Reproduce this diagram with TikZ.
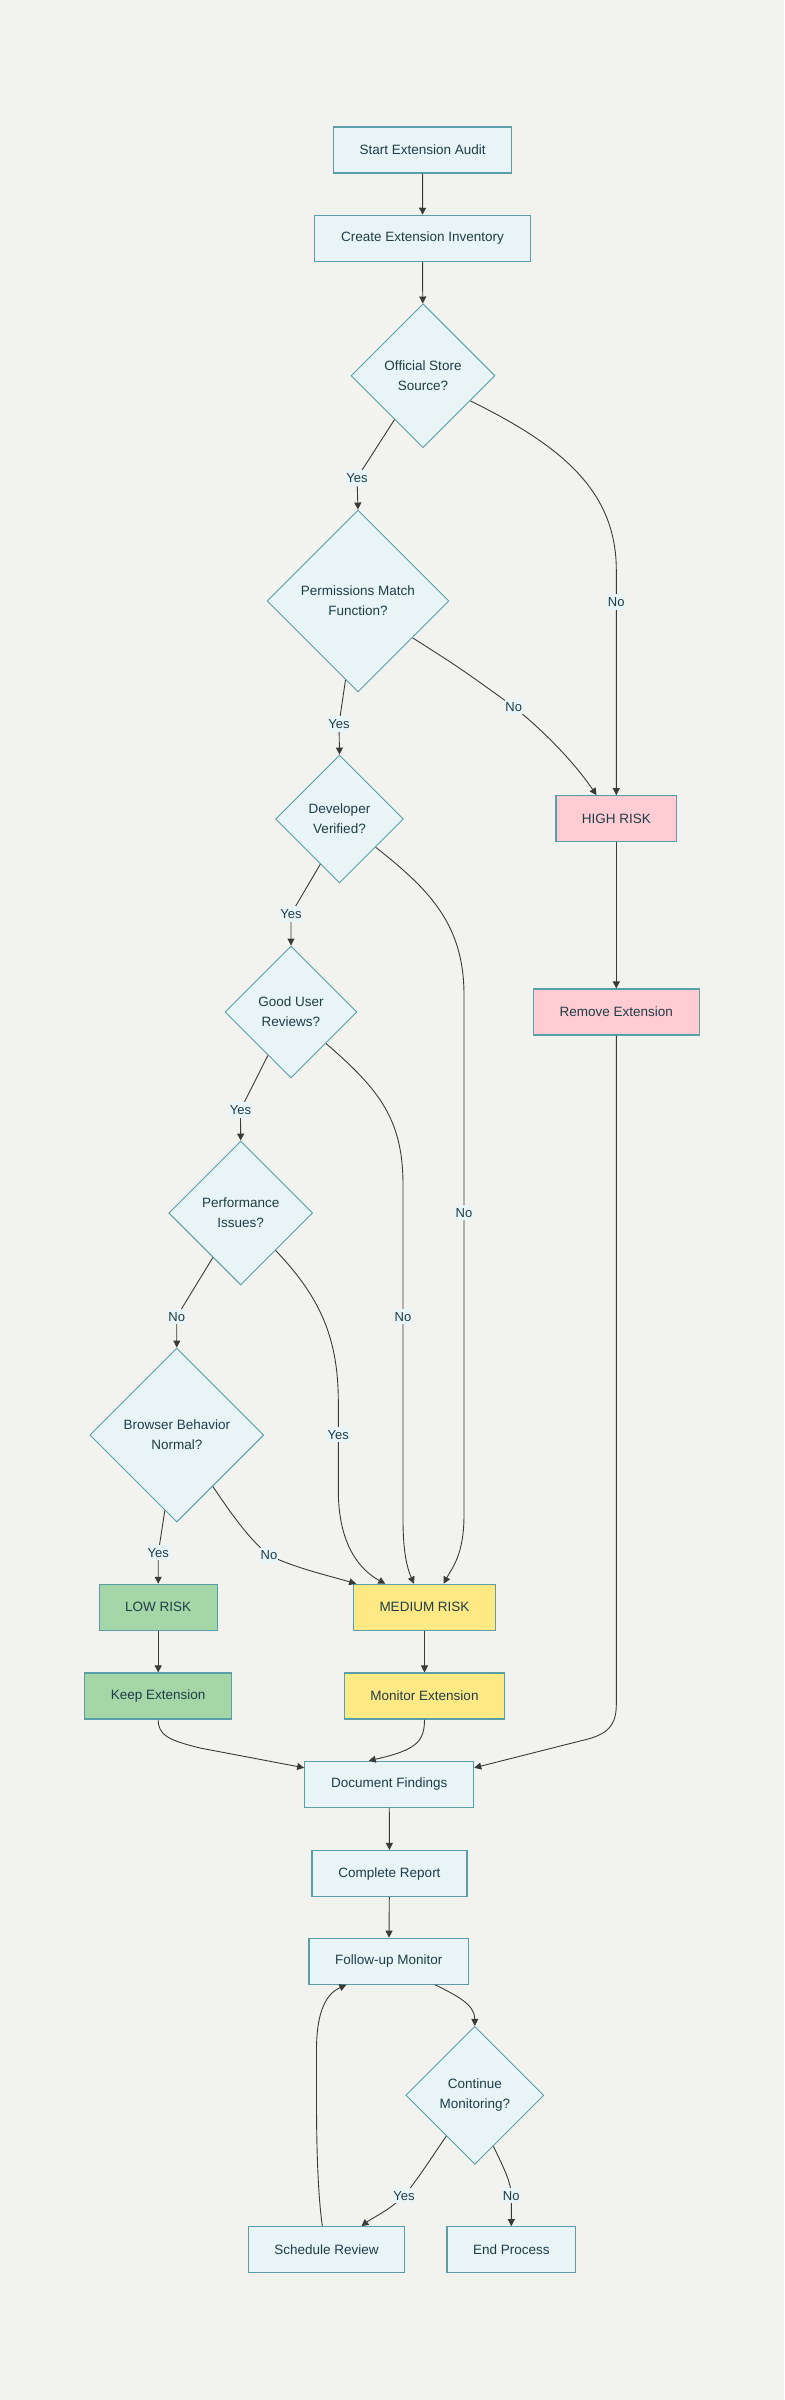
\documentclass[tikz,border=0pt]{standalone}
\usepackage{fontspec}
\setmainfont{Liberation Sans}
\usetikzlibrary{arrows.meta,shapes.geometric}
\definecolor{bg}{HTML}{F2F3EE}
\definecolor{boxfill}{HTML}{E8F4F5}
\definecolor{boxline}{HTML}{5A9FA8}
\definecolor{ink}{HTML}{1F3D47}
\definecolor{edge}{HTML}{3A3A3A}
\definecolor{high}{HTML}{FFCCD3}
\definecolor{low}{HTML}{A5D6A7}
\definecolor{medium}{HTML}{FFE985}
\tikzset{
  block/.style={draw=boxline, fill=boxfill, line width=1.1pt, minimum height=46pt,
                inner sep=0pt, text=ink, font=\fontsize{13.5}{20}\selectfont},
  choice/.style={diamond, aspect=1, draw=boxline, fill=boxfill, line width=0.9pt,
                 inner sep=1pt, align=center, text=ink, font=\fontsize{13.5}{20}\selectfont},
  arrow/.style={-{Triangle[length=7pt,width=7pt]}, line width=0.9pt, draw=edge},
  tag/.style={fill=boxfill, inner xsep=0.8pt, inner ysep=3pt, text=ink,
              font=\fontsize{13}{14}\selectfont}
}
\begin{document}
\begin{tikzpicture}[x=1pt,y=-1pt]
  \fill[bg] (0,0) rectangle (784,2400);
  \useasboundingbox (0,0) rectangle (784,2400);
  % main column
  \node[block, minimum width=178pt] (start) at (422.7,150) {Start Extension Audit};
  \node[block, minimum width=215.6pt] (inventory) at (422.5,238.3) {Create Extension Inventory};
  \node[choice, minimum size=144pt] (official) at (423,375.7) {Official Store\\Source?};
  \node[choice, minimum size=182pt] (perms) at (358,601) {Permissions Match\\Function?};
  \node[choice, minimum size=128pt] (devver) at (339.5,819) {Developer\\Verified?};
  \node[choice, minimum size=132pt] (reviews) at (291,1012) {Good User\\Reviews?};
  \node[choice, minimum size=144pt] (perf) at (240.7,1213) {Performance\\Issues?};
  \node[choice, minimum size=174pt] (browser) at (176.8,1435) {Browser Behavior\\Normal?};
  % risk levels
  \node[block, fill=high, minimum width=120.7pt] (highrisk) at (616.3,818.7) {HIGH RISK};
  \node[block, fill=high, minimum width=166pt] (remove) at (616.3,1012) {Remove Extension};
  \node[block, fill=low, minimum width=117.7pt] (lowrisk) at (158.2,1607.3) {LOW RISK};
  \node[block, fill=low, minimum width=147pt] (keep) at (158.2,1696) {Keep Extension};
  \node[block, fill=medium, minimum width=142.3pt] (medrisk) at (424.5,1607.3) {MEDIUM RISK};
  \node[block, fill=medium, minimum width=160.4pt] (monitor) at (424.5,1696) {Monitor Extension};
  % reporting
  \node[block, minimum width=169pt] (findings) at (389.2,1784.3) {Document Findings};
  \node[block, minimum width=155pt] (report) at (389.5,1873.5) {Complete Report};
  \node[block, minimum width=159.7pt] (followup) at (388.8,1961.2) {Follow-up Monitor};
  \node[choice, minimum size=138pt] (continue) at (474.8,2095.3) {Continue\\Monitoring?};
  \node[block, minimum width=156.4pt] (schedule) at (326.5,2249.7) {Schedule Review};
  \node[block, minimum width=128.7pt] (endproc) at (511.3,2249.7) {End Process};

  \draw[arrow] (start) -- (inventory);
  \draw[arrow] (inventory) -- (official);
  \draw[arrow] (official.-123) -- (357,478) node[tag] {Yes} -- (perms.north);
  \draw[arrow] (official.-28) .. controls (560,445) and (616.3,490) .. (616.3,570)
    -- (616.3,602) node[tag] {No} -- (highrisk.north);
  \draw[arrow] (perms.-99) -- (339,724) node[tag] {Yes} -- (devver.north);
  \draw[arrow] (perms.-34) .. controls (460,668) .. (513.7,706.7) node[tag] {No}
    .. controls (552,738) and (578,768) .. (highrisk.130);
  \draw[arrow] (devver.-113) -- (291,914) node[tag] {Yes} -- (reviews.north);
  \draw[arrow] (devver.-38) .. controls (430,890) and (464,925) .. (464,995)
    -- (464,1212.7) node[tag] {No} -- (464,1515)
    .. controls (464,1555) and (452,1568) .. (medrisk.51);
  \draw[arrow] (reviews.-118) -- (240.4,1110) node[tag] {Yes} -- (perf.north);
  \draw[arrow] (reviews.-42) .. controls (380,1090) and (403,1120) .. (403,1185)
    -- (403,1316.7) node[tag] {No} -- (403,1520)
    .. controls (403,1555) and (408,1570) .. (medrisk.114);
  \draw[arrow] (perf.-47) .. controls (318,1295) and (338,1335) .. (338.3,1400)
    -- (338.3,1434.7) node[tag] {Yes} -- (338.3,1490)
    .. controls (338.3,1545) and (360,1570) .. (medrisk.149);
  \draw[arrow] (perf.-122) -- (176.7,1316.7) node[tag] {No} -- (browser.north);
  \draw[arrow] (browser.-99) -- (158.3,1552.7) node[tag] {Yes} -- (lowrisk.north);
  \draw[arrow] (browser.-55) .. controls (232,1515) and (250,1540) .. (269,1555.3) node[tag] {No}
    .. controls (295,1568) and (330,1576) .. (medrisk.161);
  \draw[arrow] (highrisk) -- (remove);
  \draw[arrow] (lowrisk) -- (keep);
  \draw[arrow] (medrisk) -- (monitor);
  \draw[arrow] (remove.south) -- (616.3,1705) .. controls (616.3,1730) and (602,1736) .. (580,1741)
    -- (findings.11);
  \draw[arrow] (keep.south) .. controls (158.2,1735) and (168,1740) .. (200,1748)
    -- (findings.169);
  \draw[arrow] (monitor.south) .. controls (424.5,1742) and (416,1750) .. (findings.131);
  \draw[arrow] (findings) -- (report);
  \draw[arrow] (report) -- (followup);
  \draw[arrow] (followup.-27) .. controls (458,1996) and (474.8,2005) .. (continue.north);
  \draw[arrow] (continue.-125) .. controls (430,2160) and (415,2183) .. (404,2195.7) node[tag] {Yes}
    .. controls (390,2210) and (372,2218) .. (schedule.34);
  \draw[arrow] (continue.-70) .. controls (505,2170) and (511,2183) .. (511.3,2195.7) node[tag] {No}
    -- (endproc.north);
  \draw[arrow] (schedule.100) .. controls (318,2195) and (316.5,2150) .. (316.5,2100)
    -- (316.5,2050) .. controls (316.5,2008) and (328,1993) .. (followup.-151);
\end{tikzpicture}
\end{document}
